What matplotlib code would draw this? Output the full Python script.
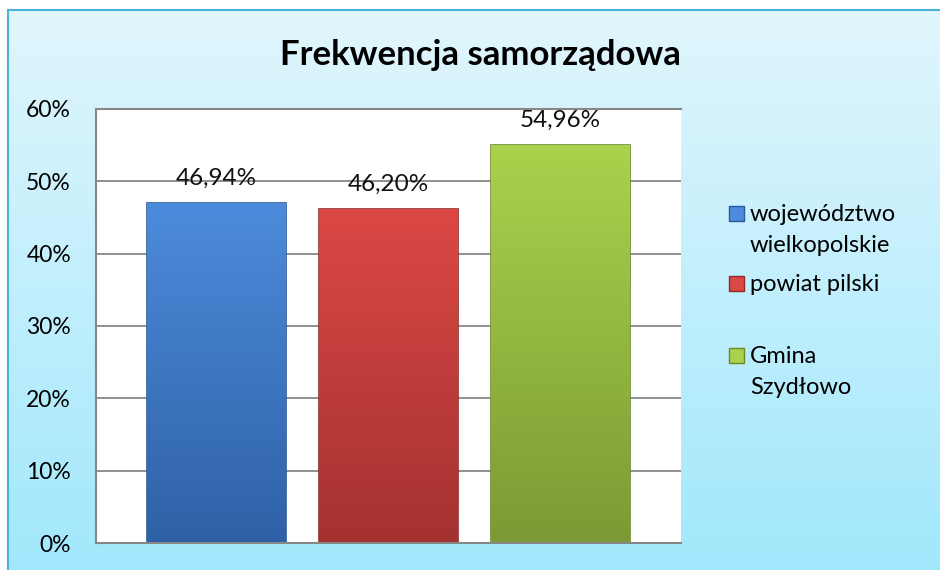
"""Frekwencja samorządowa - bar chart."""

import matplotlib

matplotlib.use("Agg")
import matplotlib.pyplot as plt
import numpy as np
from matplotlib.colors import LinearSegmentedColormap
from matplotlib.patches import Rectangle

plt.rcParams["font.family"] = ["Lato", "DejaVu Sans"]

# data
categories = ["województwo\nwielkopolskie", "powiat pilski", "Gmina\nSzydłowo"]
turnout = [46.94, 46.20, 54.96]
value_labels = ["46,94%", "46,20%", "54,96%"]
yticks = [0, 10, 20, 30, 40, 50, 60]
ytick_labels = ["0%", "10%", "20%", "30%", "40%", "50%", "60%"]

# colours (top, bottom) for the bar gradients
bar_colors = [("#4d8bdc", "#2f61a6"),
              ("#dc4846", "#a33230"),
              ("#aad24c", "#7c9a34")]
edge_colors = ["#2a5a97", "#8f2c2a", "#6d8a2c"]

fig = plt.figure(figsize=(9.4, 5.7), dpi=100)
fig.patch.set_facecolor("white")

# light blue gradient chart area with border
bg = fig.add_axes([8 / 940, 0, 1 - 8 / 940, 560 / 570], zorder=0)
grad = np.linspace(0, 1, 256).reshape(-1, 1)
bg_cmap = LinearSegmentedColormap.from_list("bg", ["#e1f6fd", "#a2e8fc"])
bg.imshow(grad, aspect="auto", cmap=bg_cmap, extent=[0, 1, 0, 1], origin="upper")
bg.set_xlim(0, 1)
bg.set_ylim(0, 1)
bg.set_xticks([])
bg.set_yticks([])
for side, s in bg.spines.items():
    s.set_color("#48b3d5")
    s.set_linewidth(1.5)
    if side in ("right", "bottom"):
        s.set_visible(False)

ax = fig.add_axes([96 / 940, 27 / 570, 585 / 940, 434 / 570], zorder=1)
ax.set_facecolor("white")

x = np.arange(len(categories))
bars = ax.bar(x, turnout, width=0.806, zorder=2)

for bar, (top, bottom), ec, lab in zip(bars, bar_colors, edge_colors, value_labels):
    bx, by = bar.get_x(), bar.get_y()
    bw, bh = bar.get_width(), bar.get_height()
    cmap = LinearSegmentedColormap.from_list("g", [top, bottom])
    bar.set_facecolor(bottom)
    bar.set_edgecolor(ec)
    bar.set_linewidth(1.2)
    im = ax.imshow(grad, aspect="auto", cmap=cmap, extent=[bx, bx + bw, by, by + bh],
                   origin="upper", zorder=2.5)
    im.set_clip_path(bar)
    ax.text(bx + bw / 2, by + bh + 2.0, lab, ha="center", va="bottom",
            fontsize=17.5, color="#111111", zorder=4)

ax.set_xlim(-0.70, 2.70)
ax.set_ylim(0, 60)
ax.set_yticks(yticks)
ax.set_yticklabels(ytick_labels, fontsize=16.5)
ax.set_xticks([])
ax.tick_params(axis="y", length=0, pad=18)
ax.yaxis.grid(True, color="#878787", linewidth=1.3, zorder=1)
ax.set_axisbelow(True)
for side in ["top", "left", "bottom"]:
    ax.spines[side].set_color("#878787")
    ax.spines[side].set_linewidth(1.5)
ax.spines["right"].set_visible(False)

fig.text(0.511, 0.904, "Frekwencja samorządowa", ha="center", va="center",
         fontsize=25, fontweight="bold", color="black")

# legend: one slot per entry, marker next to the first line
legend_rows = [213, 283, 355]  # pixel y of first line centre
for label, (top, bottom), ec, row in zip(categories, bar_colors, edge_colors, legend_rows):
    fy = 1 - row / 570
    fig.patches.append(Rectangle((729 / 940, fy - 7.5 / 570), 15 / 940, 15 / 570,
                                 transform=fig.transFigure, facecolor=top,
                                 edgecolor=ec, linewidth=1))
    fig.text(750 / 940, fy + 9 / 570, label, ha="left", va="top",
             fontsize=17, linespacing=1.6, color="black")

fig.savefig("out.png", dpi=100)
